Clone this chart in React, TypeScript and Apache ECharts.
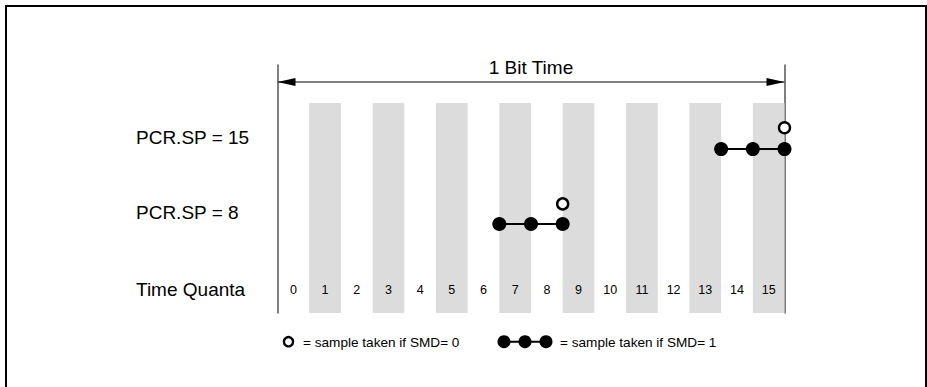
import React, { useEffect, useRef } from "react";
import * as echarts from "echarts";

// ---- data ----
const quanta = [0, 1, 2, 3, 4, 5, 6, 7, 8, 9, 10, 11, 12, 13, 14, 15];
const shadedQuanta = [1, 3, 5, 7, 9, 11, 13, 15];
const rowLabels = ["PCR.SP = 15", "PCR.SP = 8", "Time Quanta"];
const rowLabelLevels = [7.08, 4.07, 0.93];
const quantaLabelLevel = 0.93;
const sp8Samples = [7, 8, 9];
const sp8Level = 3.59;
const sp8OpenSample = 9;
const sp8OpenLevel = 4.4;
const sp15Samples = [14, 15, 16];
const sp15Level = 6.61;
const sp15OpenSample = 16;
const sp15OpenLevel = 7.47;
const columnTop = 8.47;
const bitTimeStart = 0;
const bitTimeEnd = 16;
const bitTimeLevel = 9.31;
const bitTimeTextLevel = 9.88;
const bitTimeText = "1 Bit Time";
const legendOpenText = "= sample taken if SMD= 0";
const legendFilledText = "= sample taken if SMD= 1";

const FONT = "'Liberation Sans', Arial, Helvetica, sans-serif";

export default function App() {
  const ref = useRef<HTMLDivElement>(null);
  useEffect(() => {
    if (!ref.current) return;
    const chart = echarts.init(ref.current, undefined, { renderer: "svg" });
    const option: any = {
      animation: false,
      backgroundColor: "#fff",
      grid: { left: 277.5, right: 142.5, top: 65, bottom: 74 },
      xAxis: {
        type: "value",
        min: 0,
        max: 16,
        show: false,
      },
      yAxis: [
        {
          type: "value",
          min: 0,
          max: 10,
          position: "left",
          axisLine: { show: true, lineStyle: { color: "#555", width: 1.5 } },
          axisTick: { show: false },
          axisLabel: { show: false },
          splitLine: { show: false },
        },
        {
          type: "value",
          min: 0,
          max: 10,
          position: "right",
          axisLine: { show: true, lineStyle: { color: "#555", width: 1.5 } },
          axisTick: { show: false },
          axisLabel: { show: false },
          splitLine: { show: false },
        },
      ],
      graphic: [
        {
          type: "rect",
          shape: { x: 6, y: 6, width: 920, height: 500 },
          style: { fill: "none", stroke: "#000", lineWidth: 2 },
          silent: true,
          z: 100,
        },
        {
          type: "circle",
          shape: { cx: 288.5, cy: 341.7, r: 4.6 },
          style: { fill: "#fff", stroke: "#000", lineWidth: 2.4 },
        },
        {
          type: "text",
          x: 303,
          y: 342,
          style: {
            text: legendOpenText,
            font: `13.6px ${FONT}`,
            fill: "#000",
            verticalAlign: "middle",
            align: "left",
          },
        },
        {
          type: "line",
          shape: { x1: 504, y1: 341.7, x2: 546, y2: 341.7 },
          style: { stroke: "#000", lineWidth: 2 },
        },
        { type: "circle", shape: { cx: 504, cy: 341.7, r: 6.5 }, style: { fill: "#000" } },
        { type: "circle", shape: { cx: 525, cy: 341.7, r: 6.5 }, style: { fill: "#000" } },
        { type: "circle", shape: { cx: 546, cy: 341.7, r: 6.5 }, style: { fill: "#000" } },
        {
          type: "text",
          x: 560,
          y: 342,
          style: {
            text: legendFilledText,
            font: `13.6px ${FONT}`,
            fill: "#000",
            verticalAlign: "middle",
            align: "left",
          },
        },
      ],
      series: [
        {
          type: "custom",
          name: "columns",
          z: 1,
          data: shadedQuanta.map((q) => [q]),
          renderItem: (params: any, api: any) => {
            const q = api.value(0);
            const p0 = api.coord([q, columnTop]);
            const p1 = api.coord([q + 1, 0]);
            return {
              type: "rect",
              shape: { x: p0[0], y: p0[1], width: p1[0] - p0[0], height: p1[1] - p0[1] },
              style: { fill: "#dcdcdc" },
            };
          },
        },
        {
          type: "custom",
          name: "bitTime",
          z: 3,
          data: [[bitTimeStart, bitTimeEnd]],
          renderItem: (params: any, api: any) => {
            const a = api.coord([api.value(0), bitTimeLevel]);
            const b = api.coord([api.value(1), bitTimeLevel]);
            const t = api.coord([(api.value(0) + api.value(1)) / 2, bitTimeTextLevel]);
            const L = 18;
            const H = 4;
            return {
              type: "group",
              children: [
                {
                  type: "line",
                  shape: { x1: a[0], y1: a[1], x2: b[0], y2: b[1] },
                  style: { stroke: "#555", lineWidth: 1.5 },
                },
                {
                  type: "polygon",
                  shape: { points: [[a[0], a[1]], [a[0] + L, a[1] - H], [a[0] + L, a[1] + H]] },
                  style: { fill: "#000" },
                },
                {
                  type: "polygon",
                  shape: { points: [[b[0], b[1]], [b[0] - L, b[1] - H], [b[0] - L, b[1] + H]] },
                  style: { fill: "#000" },
                },
                {
                  type: "text",
                  x: t[0],
                  y: t[1],
                  style: {
                    text: bitTimeText,
                    font: `19px ${FONT}`,
                    fill: "#000",
                    align: "center",
                    verticalAlign: "middle",
                  },
                },
              ],
            };
          },
        },
        {
          type: "line",
          name: "PCR.SP = 8",
          z: 4,
          data: sp8Samples.map((s) => [s, sp8Level]),
          symbol: "circle",
          symbolSize: 14,
          showAllSymbol: true,
          clip: false,
          itemStyle: { color: "#000" },
          lineStyle: { color: "#000", width: 2 },
        },
        {
          type: "line",
          name: "PCR.SP = 15",
          z: 4,
          data: sp15Samples.map((s) => [s, sp15Level]),
          symbol: "circle",
          symbolSize: 14,
          showAllSymbol: true,
          clip: false,
          itemStyle: { color: "#000" },
          lineStyle: { color: "#000", width: 2 },
        },
        {
          type: "scatter",
          name: "SMD=0",
          z: 5,
          clip: false,
          data: [
            [sp8OpenSample, sp8OpenLevel],
            [sp15OpenSample, sp15OpenLevel],
          ],
          symbol: "circle",
          symbolSize: 11,
          itemStyle: { color: "#fff", borderColor: "#000", borderWidth: 2.4, opacity: 1 },
        },
        {
          type: "custom",
          name: "quantaLabels",
          z: 6,
          clip: false,
          data: quanta.map((q) => [q]),
          renderItem: (params: any, api: any) => {
            const q = api.value(0);
            const p = api.coord([q + 0.5, quantaLabelLevel]);
            return {
              type: "text",
              x: p[0],
              y: p[1],
              style: {
                text: String(q),
                font: `12.5px ${FONT}`,
                fill: "#000",
                align: "center",
                verticalAlign: "middle",
              },
            };
          },
        },
        {
          type: "custom",
          name: "rowLabels",
          z: 6,
          clip: false,
          data: rowLabelLevels.map((y, i) => [y, i]),
          renderItem: (params: any, api: any) => {
            const y = api.value(0);
            const i = api.value(1);
            const p = api.coord([0, y]);
            return {
              type: "text",
              x: p[0] - 141.5,
              y: p[1],
              style: {
                text: rowLabels[i],
                font: `19px ${FONT}`,
                fill: "#000",
                align: "left",
                verticalAlign: "middle",
              },
            };
          },
        },
      ],
    };
    chart.setOption(option);
    return () => chart.dispose();
  }, []);
  return (
    <div
      ref={ref}
      style={{ position: "absolute", left: 0, top: 0, width: 927, height: 387, background: "#fff" }}
    />
  );
}
